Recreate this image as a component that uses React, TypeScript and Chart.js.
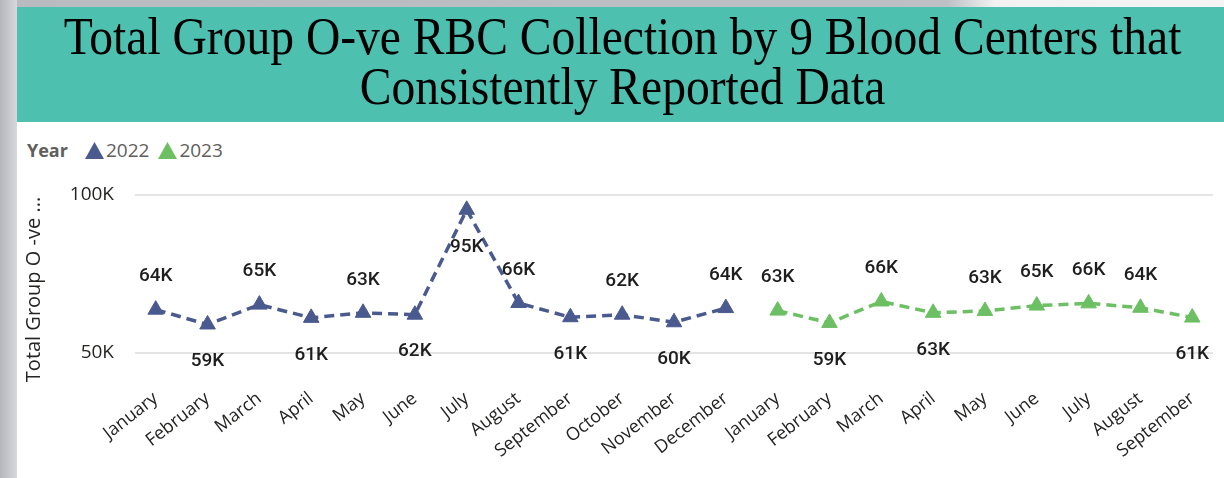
import React, { useEffect, useRef } from 'react';
import { Chart, registerables } from 'chart.js';

Chart.register(...registerables);

const titleLines = ['Total Group O-ve RBC Collection by 9 Blood Centers that', 'Consistently Reported Data'];
const legendTitle = 'Year';
const yAxisTitle = 'Total Group O -ve ...';

const months2022 = ['January', 'February', 'March', 'April', 'May', 'June', 'July', 'August', 'September', 'October', 'November', 'December'];
const months2023 = ['January', 'February', 'March', 'April', 'May', 'June', 'July', 'August', 'September'];

const values2022 = [63600, 58900, 65200, 61000, 62600, 62000, 95300, 65700, 61200, 62000, 59600, 64100];
const values2023 = [63300, 59400, 66200, 62600, 63200, 64900, 65600, 64200, 61100];

const labelSide2022 = ['above', 'below', 'above', 'below', 'above', 'below', 'below', 'above', 'below', 'above', 'below', 'above'];
const labelSide2023 = ['above', 'below', 'above', 'below', 'above', 'above', 'above', 'above', 'below'];

const yTicks = [50000, 100000];
const seriesNames = ['2022', '2023'];
const seriesColors = ['#4A5A8F', '#6CBF62'];

const allMonths = [...months2022, ...months2023];

const dataLabelPlugin = {
  id: 'dataLabels',
  afterDatasetsDraw(chart: any) {
    const ctx = chart.ctx;
    ctx.save();
    ctx.font = '500 19px Roboto';
    ctx.fillStyle = '#1E1E1E';
    ctx.textAlign = 'center';
    ctx.textBaseline = 'middle';
    chart.data.datasets.forEach((ds: any, di: number) => {
      const meta = chart.getDatasetMeta(di);
      meta.data.forEach((pt: any, i: number) => {
        const v = ds.data[i].y;
        const side = ds.labelSides[i];
        const y = side === 'above' ? pt.y - 33 : pt.y + 37;
        ctx.fillText(Math.round(v / 1000) + 'K', pt.x, y);
      });
    });
    ctx.restore();
  },
};

function Triangle({ color }: { color: string }) {
  return (
    <svg width="19" height="17" viewBox="0 0 19 17" style={{ display: 'block' }}>
      <polygon points="9.5,0 19,17 0,17" fill={color} />
    </svg>
  );
}

export default function App() {
  const canvasRef = useRef<HTMLCanvasElement | null>(null);

  useEffect(() => {
    document.body.style.margin = '0';
    const canvas = canvasRef.current;
    if (!canvas) return;
    const datasets = [
      {
        label: seriesNames[0],
        data: values2022.map((v, i) => ({ x: i, y: v })),
        labelSides: labelSide2022,
      },
      {
        label: seriesNames[1],
        data: values2023.map((v, i) => ({ x: i + months2022.length, y: v })),
        labelSides: labelSide2023,
      },
    ].map((d, i) => ({
      ...d,
      borderColor: seriesColors[i],
      backgroundColor: seriesColors[i],
      pointBackgroundColor: seriesColors[i],
      pointBorderColor: seriesColors[i],
      pointStyle: 'triangle',
      pointRadius: 9,
      pointBorderWidth: 1,
      borderWidth: 3.5,
      borderDash: [10, 6],
      tension: 0,
      fill: false,
    }));

    const chart = new Chart(canvas, {
      type: 'line',
      data: { datasets: datasets as any },
      options: {
        animation: false,
        responsive: false,
        devicePixelRatio: 1,
        layout: { padding: { top: 73, right: 11, bottom: 0, left: 0 } },
        plugins: { legend: { display: false }, tooltip: { enabled: false } },
        scales: {
          x: {
            type: 'linear',
            min: -0.4,
            max: allMonths.length - 1 + 0.4,
            grid: { display: false },
            border: { display: false },
            afterBuildTicks: (scale: any) => {
              scale.ticks = allMonths.map((_, i) => ({ value: i }));
            },
            afterFit: (scale: any) => {
              scale.height = 94;
            },
            ticks: {
              autoSkip: false,
              minRotation: 38,
              maxRotation: 38,
              padding: -4,
              color: '#252423',
              font: { family: 'Open Sans', size: 18 },
              callback: (v: any) => allMonths[v as number],
            },
          },
          y: {
            type: 'linear',
            min: 40000,
            max: 100000,
            grid: { color: '#E4E4E4', lineWidth: 2, drawTicks: false },
            border: { display: false },
            afterBuildTicks: (scale: any) => {
              scale.ticks = yTicks.map((v) => ({ value: v }));
            },
            afterFit: (scale: any) => {
              scale.width = 118;
            },
            ticks: {
              padding: 21,
              color: '#252423',
              font: { family: 'Open Sans', size: 19 },
              callback: (v: any) => (v as number) / 1000 + 'K',
            },
            title: {
              display: true,
              text: yAxisTitle,
              color: '#252423',
              font: { family: 'Open Sans', size: 20 },
              padding: { top: 5, bottom: 0 },
            },
          },
        },
      },
      plugins: [dataLabelPlugin],
    } as any);
    return () => chart.destroy();
  }, []);

  return (
    <div style={{ position: 'fixed', left: 0, top: 0, width: 1224, height: 478, background: '#FFFFFF', overflow: 'hidden' }}>
      <div style={{ position: 'absolute', left: 0, top: 0, width: 17, height: 478, background: 'linear-gradient(to right, #B4B6BB, #D6D8DC)' }} />
      <div style={{ position: 'absolute', left: 17, top: 0, width: 1207, height: 7, background: 'linear-gradient(to right, #B9BBC0 0%, #BDBFC4 77%, #F2F2F2 81%, #F4F4F4 100%)' }} />
      <div style={{ position: 'absolute', left: 17, top: 7, width: 1207, height: 115, background: '#4DC0B0', overflow: 'hidden' }}>
        {titleLines.map((line, i) => (
          <div
            key={i}
            style={{
              position: 'absolute',
              left: -198,
              width: 1607,
              top: 3.5 + i * 50,
              textAlign: 'center',
              fontFamily: '"Liberation Serif", "Times New Roman", serif',
              fontSize: 53,
              lineHeight: '50px',
              color: '#000000',
              whiteSpace: 'nowrap',
              transform: 'scaleX(0.897)',
              transformOrigin: '50% 50%',
            }}
          >
            {line}
          </div>
        ))}
      </div>
      <div
        style={{
          position: 'absolute',
          left: 27,
          top: 138,
          height: 24,
          display: 'flex',
          alignItems: 'center',
          fontFamily: '"Open Sans", sans-serif',
          fontSize: 19,
          color: '#605E5C',
          whiteSpace: 'nowrap',
        }}
      >
        <span style={{ fontWeight: 700, fontSize: 18, marginRight: 17 }}>{legendTitle}</span>
        {seriesNames.map((name, i) => (
          <span key={name} style={{ display: 'flex', alignItems: 'center', marginRight: 9 }}>
            <Triangle color={seriesColors[i]} />
            <span style={{ marginLeft: 2 }}>{name}</span>
          </span>
        ))}
      </div>
      <div style={{ position: 'absolute', left: 17, top: 122, width: 1207, height: 356 }}>
        <canvas ref={canvasRef} width={1207} height={356} style={{ display: 'block', width: 1207, height: 356 }} />
      </div>
    </div>
  );
}
